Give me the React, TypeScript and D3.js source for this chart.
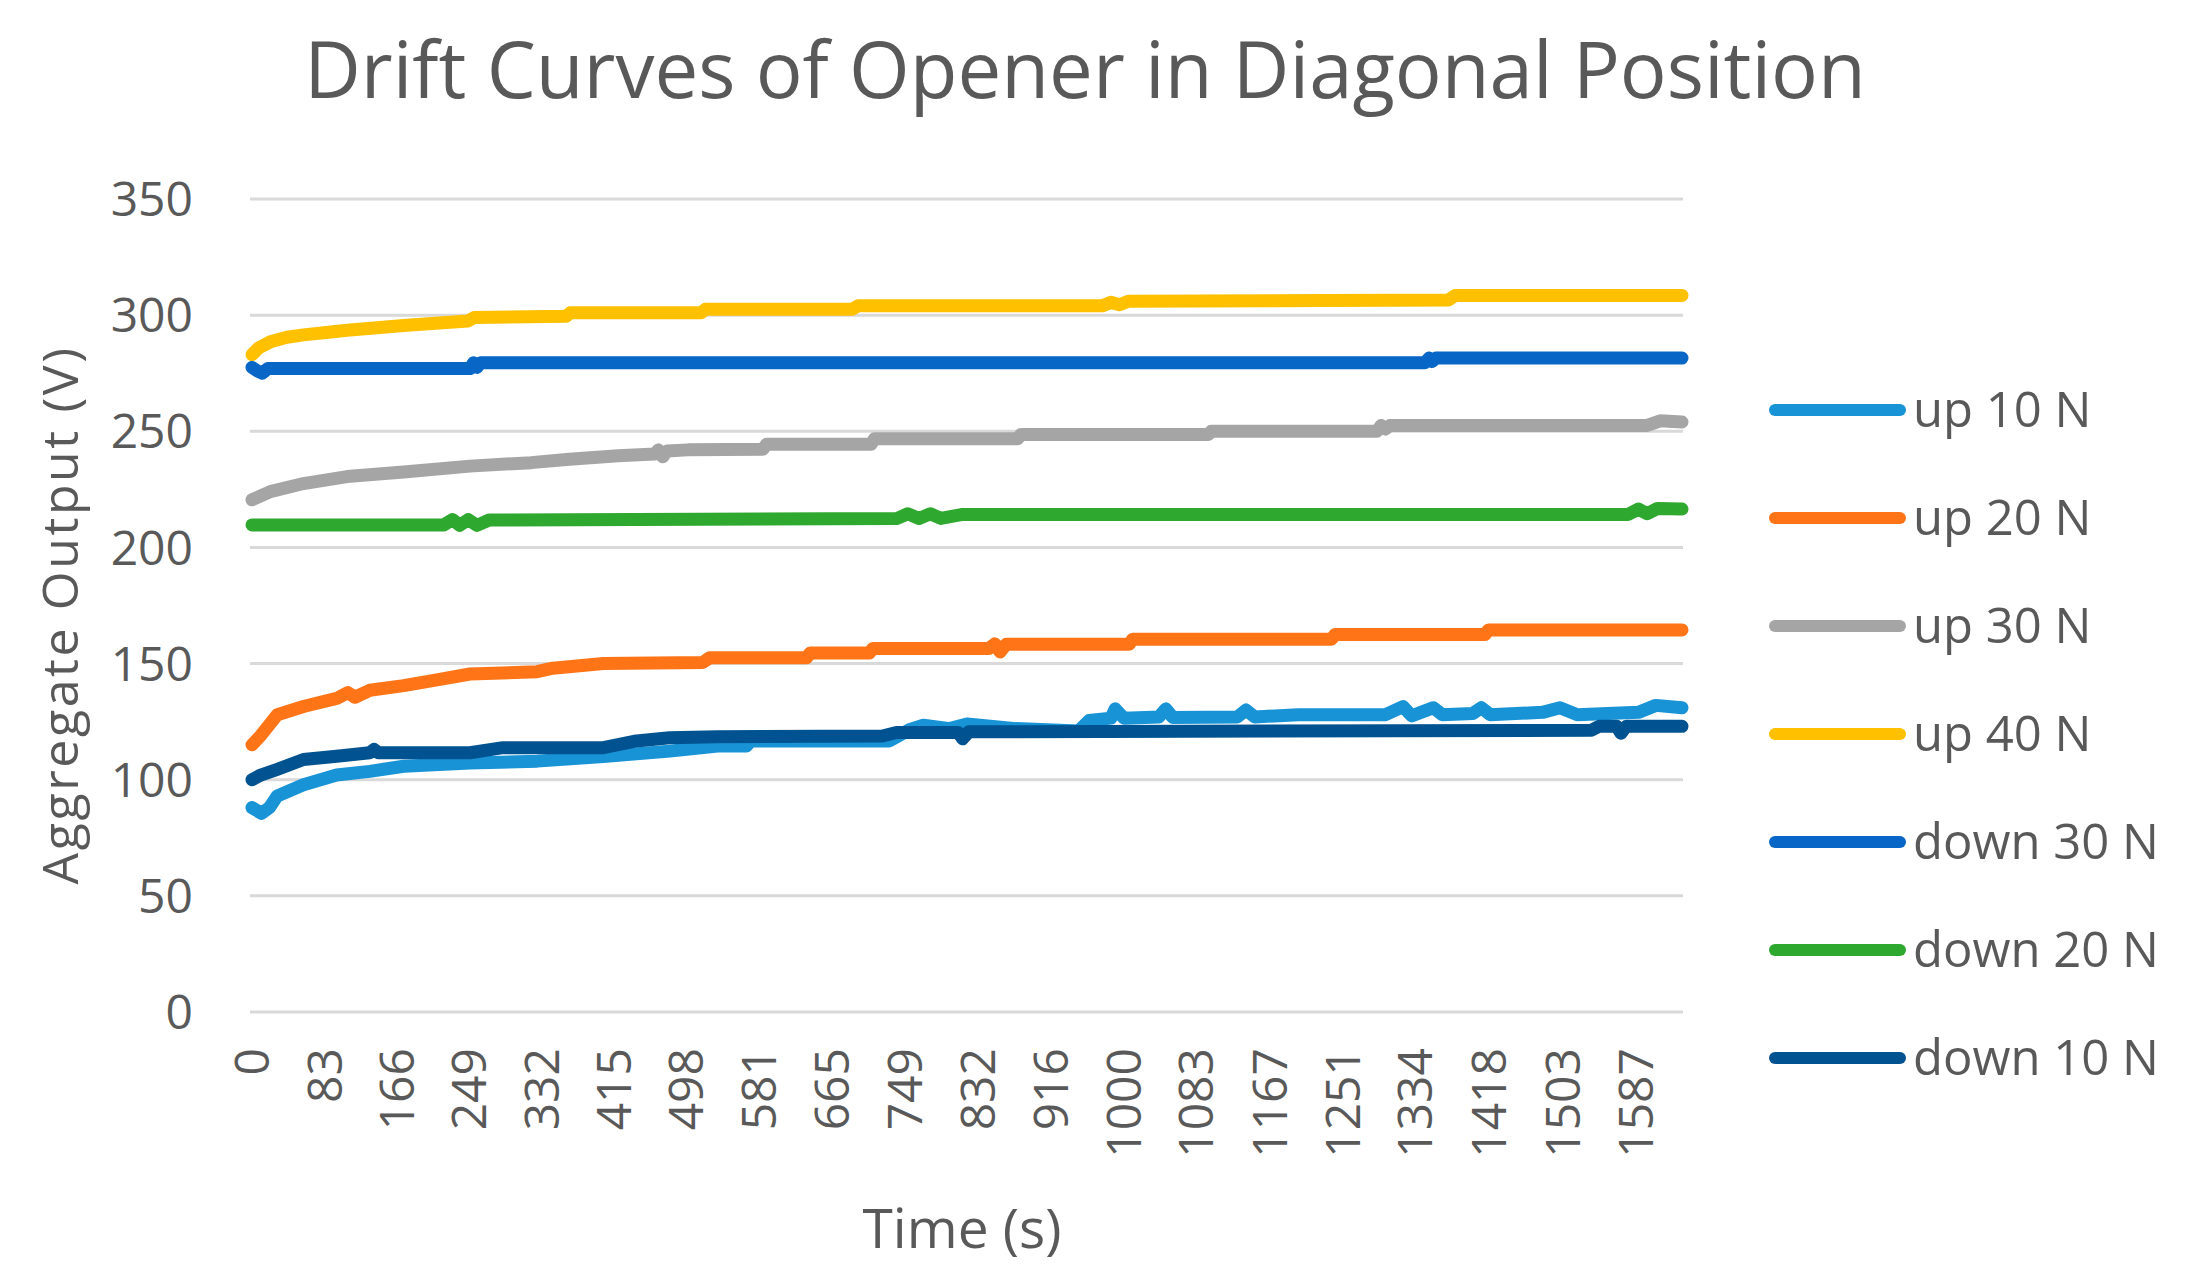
import * as d3 from 'd3';

type Pt = [number, number];

// time (s) / output (V) pairs
const UP_10: Pt[] = [
  [0, 88], [11, 85.5], [20, 88], [29, 93], [59, 97.8], [97, 102], [135, 103.6], [174, 105.8],
  [250, 107.2], [327, 108], [403, 110], [479, 112.3], [534, 114.5], [567, 114.5], [572, 116.7],
  [731, 116.7], [754, 121.5], [770, 123.5], [800, 122], [820, 124], [876, 122], [948, 121],
  [960, 125.5], [985, 126.5], [990, 130.5], [1000, 126.5], [1040, 127], [1048, 130.5], [1056, 126.8],
  [1130, 127], [1140, 130], [1150, 127], [1200, 128], [1300, 128], [1320, 131.5], [1330, 127.5],
  [1355, 131], [1365, 128], [1400, 128.5], [1410, 131], [1420, 128], [1480, 129], [1500, 131],
  [1520, 128], [1590, 129], [1610, 132], [1640, 131],
];

const UP_20: Pt[] = [
  [0, 115], [10, 119], [29, 128], [59, 131.5], [97, 135], [110, 137.5], [118, 135.5], [135, 138.5],
  [174, 140.5], [212, 143], [250, 145.5], [327, 146.5], [345, 148], [403, 150], [517, 150.5],
  [525, 152.5], [636, 152.5], [640, 154.5], [708, 154.5], [712, 156.5], [845, 156.5],
  [852, 158.5], [858, 155], [865, 158.3], [1006, 158.3], [1010, 160.5], [1238, 160.5],
  [1242, 162.5], [1414, 162.5], [1418, 164.5], [1640, 164.5],
];

const UP_30: Pt[] = [
  [0, 220.5], [21, 224], [59, 227.5], [109, 230.5], [174, 232.5], [250, 235], [320, 236.5],
  [364, 238], [420, 239.5], [462, 240.2], [466, 242], [471, 239], [476, 241.5], [500, 242],
  [586, 242.3], [590, 244.4], [710, 244.4], [714, 246.8], [878, 246.8], [882, 248.6],
  [1097, 248.6], [1100, 250], [1290, 250], [1295, 252.5], [1300, 251], [1305, 252.5],
  [1600, 252.5], [1615, 254.5], [1640, 254],
];

const UP_40: Pt[] = [
  [0, 283], [8, 286], [21, 288.5], [40, 290.5], [59, 291.5], [85, 292.5], [109, 293.5],
  [140, 294.5], [174, 295.5], [210, 296.5], [248, 297.5], [255, 299], [360, 299.5], [365, 301],
  [515, 301], [520, 302.5], [688, 302.5], [695, 304], [975, 304], [985, 305.5], [995, 304.5],
  [1005, 306], [1372, 306.5], [1380, 308.5], [1640, 308.5],
];

const DOWN_30: Pt[] = [
  [0, 277.5], [6, 276], [12, 275], [18, 277], [250, 277], [254, 279.5], [258, 277.5],
  [262, 279.5], [1345, 279.5], [1350, 281.5], [1353, 280], [1358, 281.5], [1640, 281.5],
];

const DOWN_20: Pt[] = [
  [0, 209.7], [220, 209.7], [230, 212], [238, 209.5], [248, 212], [258, 209.5], [272, 211.8],
  [740, 212.5], [752, 214.5], [765, 212.5], [778, 214.5], [790, 212.5], [815, 214.2],
  [1578, 214.2], [1590, 216.5], [1600, 214.5], [1612, 216.8], [1640, 216.5],
];

const DOWN_10: Pt[] = [
  [0, 100], [10, 102], [29, 104.5], [59, 108.7], [97, 110.1], [135, 111.6], [140, 113],
  [145, 111.6], [250, 111.6], [288, 113.8], [403, 113.8], [441, 116.7], [479, 118.1],
  [534, 118.5], [723, 118.8], [739, 120.3], [810, 120.3], [815, 117.6], [822, 120.6],
  [1536, 121.3], [1545, 123], [1565, 123], [1570, 120], [1576, 123], [1640, 123],
];

const SERIES_NAMES = ['up 10 N', 'up 20 N', 'up 30 N', 'up 40 N', 'down 30 N', 'down 20 N', 'down 10 N'];
const SERIES_DATA = [UP_10, UP_20, UP_30, UP_40, DOWN_30, DOWN_20, DOWN_10];
const SERIES_COLORS = ['#1793d6', '#ff7417', '#a5a5a5', '#ffc000', '#0866c6', '#2ea82e', '#005390'];

const Y_TICKS = [0, 50, 100, 150, 200, 250, 300, 350];
const TIME_TICKS = [0, 83, 166, 249, 332, 415, 498, 581, 665, 749, 832, 916, 1000, 1083, 1167, 1251, 1334, 1418, 1503, 1587];

const W = 2188;
const H = 1271;
const FONT = "'Open Sans', 'Noto Sans', sans-serif";
const INK = '#595959';

export default function App() {
  const plotLeft = 250;
  const plotRight = 1683;

  const x = d3.scaleLinear().domain([0, 1640]).range([252, 1682]);
  const y = d3.scaleLinear().domain([0, 350]).range([1012, 199]);

  const line = d3.line<Pt>()
    .x(d => x(d[0]))
    .y(d => y(d[1]));

  const tickFs = 48;
  const legendFs = 49;
  const legendY0 = 410;
  const legendStep = 108;

  return (
    <svg width={W} height={H} style={{ position: 'absolute', left: 0, top: 0, background: '#fff' }}>
      <rect width={W} height={H} fill="#fff" />

      {/* Title */}
      <text x={1085} y={98} textAnchor="middle" fontFamily={FONT} fontSize={78} fill={INK}>
        Drift Curves of Opener in Diagonal Position
      </text>

      {/* Grid lines */}
      {Y_TICKS.map(t => (
        <line key={t} x1={plotLeft} x2={plotRight} y1={y(t)} y2={y(t)} stroke="#d9d9d9" strokeWidth={3} />
      ))}

      {/* Y tick labels */}
      {Y_TICKS.map(t => (
        <text key={`yl-${t}`} x={193} y={y(t) + 0.357 * tickFs} textAnchor="end"
          fontFamily={FONT} fontSize={tickFs} fill={INK}>
          {t}
        </text>
      ))}

      {/* X tick labels, rotated */}
      {TIME_TICKS.map(t => (
        <text key={`xl-${t}`} transform={`translate(${x(t)},1048) rotate(-90)`}
          x={0} y={0.357 * tickFs} textAnchor="end"
          fontFamily={FONT} fontSize={tickFs} fill={INK}>
          {t}
        </text>
      ))}

      {/* Axis titles */}
      <text transform="translate(59,615) rotate(-90)" textAnchor="middle" dominantBaseline="central"
        fontFamily={FONT} fontSize={50} letterSpacing={2.6} fill={INK}>
        Aggregate Output (V)
      </text>
      <text x={962} y={1248} textAnchor="middle" fontFamily={FONT} fontSize={55} fill={INK}>
        Time (s)
      </text>

      {/* Series */}
      {SERIES_DATA.map((data, i) => (
        <path key={SERIES_NAMES[i]} d={line(data) ?? ''} fill="none" stroke={SERIES_COLORS[i]}
          strokeWidth={13} strokeLinejoin="round" strokeLinecap="round" />
      ))}

      {/* Legend */}
      {SERIES_NAMES.map((name, i) => {
        const ly = legendY0 + i * legendStep;
        return (
          <g key={`lg-${name}`}>
            <line x1={1775} x2={1900} y1={ly} y2={ly} stroke={SERIES_COLORS[i]} strokeWidth={12} strokeLinecap="round" />
            <text x={1913} y={ly + 0.357 * legendFs} fontFamily={FONT} fontSize={legendFs} fill={INK}>
              {name}
            </text>
          </g>
        );
      })}
    </svg>
  );
}
